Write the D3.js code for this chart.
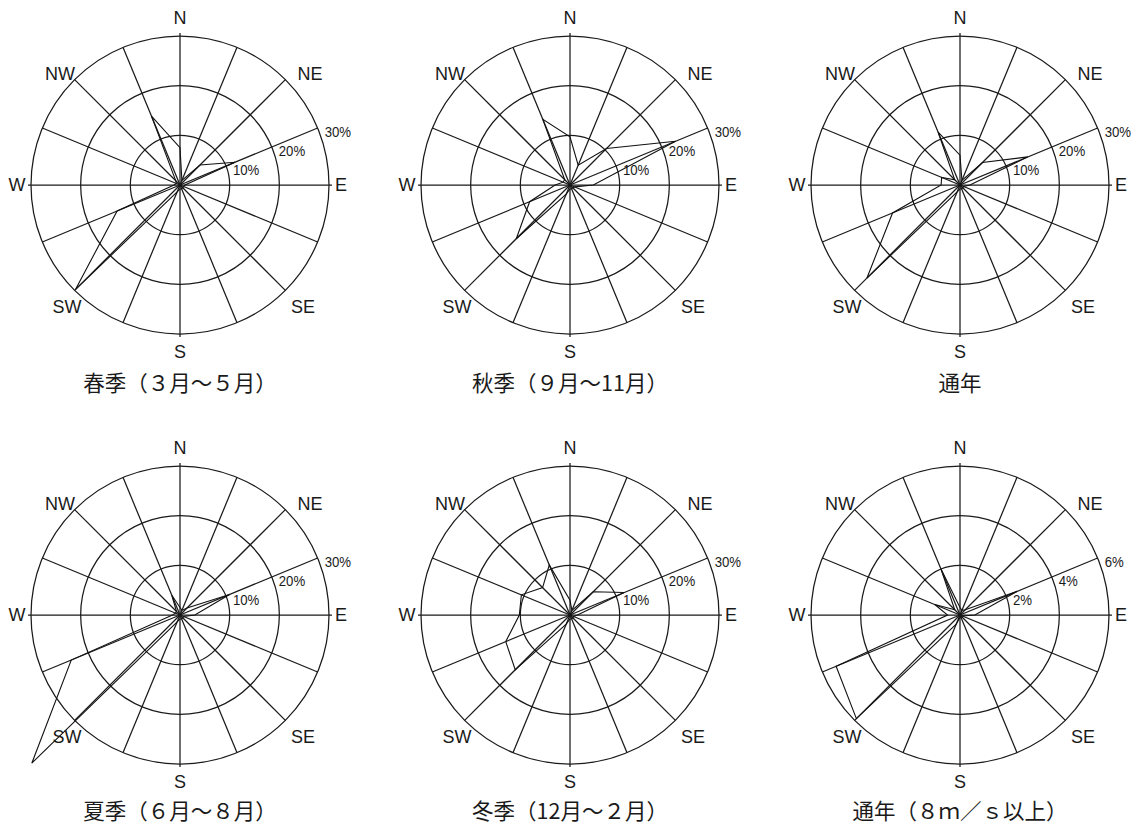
<!DOCTYPE html>
<html>
<head>
<meta charset="utf-8">
<script src="https://cdn.jsdelivr.net/npm/d3@7"></script>
<style>
  html, body { margin: 0; padding: 0; background: #fff; }
  svg { display: block; }
</style>
</head>
<body>
<script>
// 16 compass points, clockwise from north
const directions = ["N","NNE","NE","ENE","E","ESE","SE","SSE","S","SSW","SW","WSW","W","WNW","NW","NNW"];

// Wind direction frequency (%) per season
const springValues = [7.5, 1.0, 5.7, 12.0, 1.0, 0.8, 0.8, 0.8, 0.8, 1.5, 29.8, 13.7, 1.2, 0.8, 1.2, 15.0];
const autumnValues = [9.7, 4.3, 10.4, 23.0, 4.7, 1.0, 0.8, 0.8, 0.8, 2.0, 15.3, 8.8, 3.0, 1.5, 1.5, 14.3];
const annualValues = [6.0, 1.0, 6.4, 14.8, 2.0, 0.8, 0.8, 0.8, 0.8, 1.5, 26.5, 14.7, 3.8, 4.0, 1.5, 11.5];
const summerValues = [1.5, 1.0, 2.0, 10.8, 3.0, 0.8, 0.8, 0.8, 0.8, 1.5, 42.2, 23.7, 1.5, 1.0, 1.0, 4.3];
const winterValues = [3.0, 1.0, 6.6, 11.8, 1.5, 0.8, 0.8, 0.8, 0.8, 2.0, 15.6, 14.0, 10.2, 10.6, 7.8, 10.9];
const strongWindValues = [0.3, 0.2, 0.3, 2.5, 0.6, 0.1, 0.1, 0.1, 0.1, 0.4, 5.9, 5.4, 0.5, 1.1, 0.3, 2.0];

// Ring values and their labels
const ringTicks = [10, 20, 30];
const ringLabels = ["10%", "20%", "30%"];
const strongRingTicks = [2, 4, 6];
const strongRingLabels = ["2%", "4%", "6%"];

// Panel titles
const panelTitles = ["春季（３月～５月）", "秋季（９月～11月）", "通年", "夏季（６月～８月）", "冬季（12月～２月）", "通年（８ｍ／ｓ以上）"];

// Compass labels drawn around each rose
const compassLabels = ["N", "NE", "E", "SE", "S", "SW", "W", "NW"];

// ---- layout ----
const W = 1139, H = 826;
const R = 149;                       // outer ring radius
const colX = [180, 570, 960];
const rowY = [185, 615];
const labelOffsets = {               // label centre relative to rose centre
  N: [0, -167], NE: [130, -111], E: [161, 0], SE: [123, 122],
  S: [0, 167], SW: [-113, 122], W: [-163, 0], NW: [-120, -111]
};

const panels = [
  { values: springValues,     ticks: ringTicks,       labels: ringLabels,       title: panelTitles[0], cx: colX[0], cy: rowY[0] },
  { values: autumnValues,     ticks: ringTicks,       labels: ringLabels,       title: panelTitles[1], cx: colX[1], cy: rowY[0] },
  { values: annualValues,     ticks: ringTicks,       labels: ringLabels,       title: panelTitles[2], cx: colX[2], cy: rowY[0] },
  { values: summerValues,     ticks: ringTicks,       labels: ringLabels,       title: panelTitles[3], cx: colX[0], cy: rowY[1] },
  { values: winterValues,     ticks: ringTicks,       labels: ringLabels,       title: panelTitles[4], cx: colX[1], cy: rowY[1] },
  { values: strongWindValues, ticks: strongRingTicks, labels: strongRingLabels, title: panelTitles[5], cx: colX[2], cy: rowY[1] }
];

const svg = d3.select("body").append("svg")
  .attr("width", W).attr("height", H)
  .style("background", "#fff");

const ink = "#1a1a1a";
const step = 2 * Math.PI / directions.length;
const angle = d3.scaleOrdinal().domain(directions).range(directions.map((d, i) => i * step));

panels.forEach(p => {
  const g = svg.append("g").attr("transform", `translate(${p.cx},${p.cy})`);
  const r = d3.scaleLinear().domain([0, d3.max(p.ticks)]).range([0, R]);

  // rings
  g.selectAll("circle.ring").data(p.ticks).join("circle")
    .attr("class", "ring")
    .attr("r", d => r(d))
    .attr("fill", "none")
    .attr("stroke", ink)
    .attr("stroke-width", 1.25);

  // spokes (cardinal axes run slightly past the outer ring)
  g.selectAll("line.spoke").data(directions).join("line")
    .attr("class", "spoke")
    .attr("x1", 0).attr("y1", 0)
    .attr("x2", d => Math.sin(angle(d)) * (d.length === 1 ? R + 3 : R))
    .attr("y2", d => -Math.cos(angle(d)) * (d.length === 1 ? R + 3 : R))
    .attr("stroke", ink)
    .attr("stroke-width", 1.25);

  // frequency polygon
  const radial = d3.lineRadial()
    .angle((d, i) => angle(directions[i]))
    .radius(d => r(d))
    .curve(d3.curveLinearClosed);
  g.append("path")
    .attr("d", radial(p.values))
    .attr("fill", "none")
    .attr("stroke", "#111")
    .attr("stroke-width", 1.1)
    .attr("stroke-linejoin", "miter");

  // ring labels along the ENE spoke
  const a = angle("ENE");
  g.selectAll("text.ringlab").data(p.ticks).join("text")
    .attr("class", "ringlab")
    .attr("transform", d => `translate(${Math.sin(a) * r(d) + 7},${-Math.cos(a) * r(d) + 4}) scale(0.88,1)`)
    .attr("dominant-baseline", "central")
    .attr("font-family", "'Liberation Sans', Arial, sans-serif")
    .attr("font-size", 15)
    .attr("fill", ink)
    .text((d, i) => p.labels[i]);

  // compass labels
  g.selectAll("text.compass").data(compassLabels).join("text")
    .attr("class", "compass")
    .attr("x", d => labelOffsets[d][0])
    .attr("y", d => labelOffsets[d][1])
    .attr("text-anchor", "middle")
    .attr("dominant-baseline", "central")
    .attr("font-family", "'Liberation Sans', Arial, sans-serif")
    .attr("font-size", 18)
    .attr("fill", ink)
    .text(d => d);

  // title
  g.append("text")
    .attr("x", 0)
    .attr("y", p.cy === rowY[0] ? 196 : 194)
    .attr("text-anchor", "middle")
    .attr("dominant-baseline", "central")
    .attr("font-family", "'Noto Sans CJK JP', sans-serif")
    .attr("font-size", 21.5)
    .attr("fill", ink)
    .text(p.title);
});
</script>
</body>
</html>
